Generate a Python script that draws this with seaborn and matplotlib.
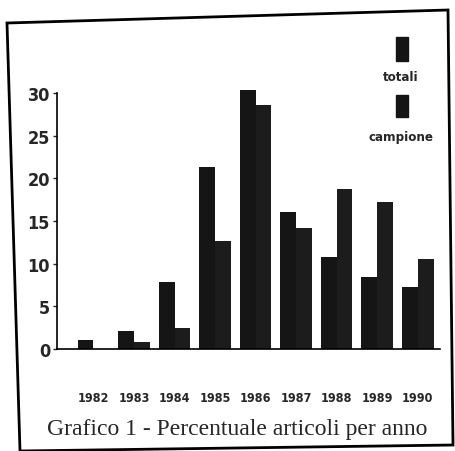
"""Grafico 1 - Percentuale articoli per anno (bar chart, totali vs campione)."""

import numpy as np
import pandas as pd
import matplotlib.pyplot as plt
from matplotlib.patches import Polygon, Rectangle
import seaborn as sns

# Data
years = ['1982', '1983', '1984', '1985', '1986', '1987', '1988', '1989', '1990']
totali = [1.0, 2.1, 7.8, 21.3, 30.3, 16.0, 10.8, 8.4, 7.3]
campione = [0.0, 0.8, 2.5, 12.7, 28.6, 14.2, 18.8, 17.2, 10.6]
series = ['totali', 'campione']
y_ticks = [0, 5, 10, 15, 20, 25, 30]
y_tick_labels = ['0', '5', '10', '15', '20', '25', '30']
title = 'Grafico 1 - Percentuale articoli per anno'

df = pd.DataFrame({
    'anno': years * 2,
    'serie': ['totali'] * len(years) + ['campione'] * len(years),
    'valore': totali + campione,
})

sns.set_style('white')
plt.rcParams['font.family'] = ['DejaVu Sans']

W, H = 456, 452
fig = plt.figure(figsize=(W / 100, H / 100), dpi=100)
ax = fig.add_axes([57 / W, 1 - 350 / H, (440 - 57) / W, (350 - 94) / H])

sns.barplot(data=df, x='anno', y='valore', hue='serie', hue_order=series,
            palette=['#151515', '#1c1c1c'], width=0.78, gap=0,
            edgecolor='none', legend=False, ax=ax)
for p in ax.patches:
    p.set_clip_on(False)

cond_font = dict(fontweight='bold', fontstretch='condensed')

ax.set_ylim(0, 30)
ax.set_xlim(-0.9, len(years) - 0.45)
ax.set_yticks(y_ticks)
ax.set_yticklabels(y_tick_labels, fontsize=13, **cond_font)
ax.set_xticks(range(len(years)))
ax.set_xticklabels(years, fontsize=9, **cond_font)
ax.tick_params(axis='y', direction='out', length=3, width=1, pad=2, left=True)
ax.tick_params(axis='x', length=0, pad=30)
ax.set_xlabel('')
ax.set_ylabel('')

for side in ['top', 'right']:
    ax.spines[side].set_visible(False)
for side in ['left', 'bottom']:
    ax.spines[side].set_color('black')
    ax.spines[side].set_linewidth(1.2)

# Legend: square above each label, top right
for sq_top, sq_h, lab_y, lab in [(38, 24, 78, 'totali'), (96, 22, 137, 'campione')]:
    fig.patches.append(Rectangle((396 / W, 1 - (sq_top + sq_h) / H), 12 / W, sq_h / H,
                                 transform=fig.transFigure, color='#151515'))
    fig.text(401 / W, 1 - lab_y / H, lab, ha='center', va='center',
             fontsize=9.5, **cond_font)

# Caption
fig.text(237 / W, 1 - 430 / H, title, ha='center', va='center',
         fontsize=17, family='Liberation Serif')

# Outer frame of the scanned figure
frame = [(7, 24), (448, 11), (453, 446), (20, 452)]
fig.patches.append(Polygon([(x / W, 1 - y / H) for x, y in frame], closed=True,
                           fill=False, edgecolor='black', linewidth=2,
                           transform=fig.transFigure))

fig.savefig('out.png', dpi=100)
